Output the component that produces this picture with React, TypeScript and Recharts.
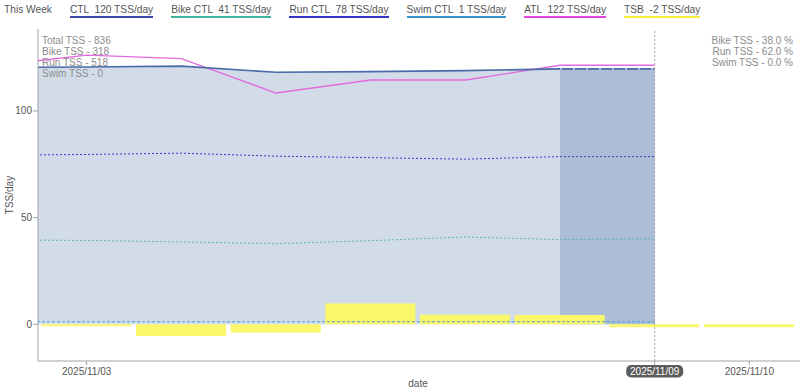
import React from 'react';
import { ComposedChart, Area, Line, Bar, XAxis, YAxis, ReferenceLine } from 'recharts';

const dates = ['2025/11/02', '2025/11/03', '2025/11/04', '2025/11/05', '2025/11/06', '2025/11/07', '2025/11/08', '2025/11/09', '2025/11/10'];
const dayIndex = [-1, 0, 1, 2, 3, 4, 5, 6, 7];
const ctl = [120.3, 120.6, 121.0, 118.1, 118.4, 118.9, 119.7, 119.7, null];
const ctlWeek = [null, null, null, null, null, null, 119.7, 119.7, null];
const bikeCtl = [39.6, 39.3, 38.6, 37.8, 39.2, 40.9, 39.7, 40.1, null];
const runCtl = [79.2, 79.6, 80.2, 78.8, 78.1, 77.4, 78.6, 78.6, null];
const swimCtl = [1.2, 1.2, 1.2, 1.2, 1.2, 1.2, 1.2, 1.2, null];
const atl = [121.0, 126.2, 124.5, 108.4, 114.5, 114.5, 121.4, 121.4, null];
const tsb = [null, -0.9, -5.5, -3.9, 9.8, 4.5, 4.4, -1.4, -1.4];

const xTicks = [0, 6, 7];
const yTicks = [0, 50, 100];
const todayIndex = 6;

const legendTitle = 'This Week';
const legendLabels = ['CTL  120 TSS/day', 'Bike CTL  41 TSS/day', 'Run CTL  78 TSS/day', 'Swim CTL  1 TSS/day', 'ATL  122 TSS/day', 'TSB  -2 TSS/day'];
const legendColors = ['#3a4aa6', '#3cb39a', '#3535c8', '#3a96c8', '#e246dc', '#f4ef3a'];
const leftNotes = ['Total TSS - 836', 'Bike TSS - 318', 'Run TSS - 518', 'Swim TSS - 0'];
const rightNotes = ['Bike TSS - 38.0 %', 'Run TSS - 62.0 %', 'Swim TSS - 0.0 %'];

const data = dates.map((d, i) => ({
  x: dayIndex[i],
  date: d,
  ctl: ctl[i],
  ctlWeek: ctlWeek[i],
  bike: bikeCtl[i],
  run: runCtl[i],
  swim: swimCtl[i],
  atl: atl[i],
  tsb: tsb[i],
}));

const FONT = '"Liberation Sans", Arial, Helvetica, sans-serif';

const XTick = (props: any) => {
  const { x, y, payload } = props;
  const idx = dayIndex.indexOf(payload.value);
  const label = idx >= 0 ? dates[idx] : '';
  if (payload.value === todayIndex) {
    return (
      <g>
        <rect x={x - 28.5} y={y} width={57} height={12.5} rx={5} ry={5} fill="#5c5c5c" />
        <text x={x} y={y + 9.8} textAnchor="middle" fill="#ffffff" fontSize={10} fontFamily={FONT}>{label}</text>
      </g>
    );
  }
  return (
    <text x={x} y={y + 9.8} textAnchor="middle" fill="#555" fontSize={10} fontFamily={FONT}>{label}</text>
  );
};

export default function App() {
  return (
    <div style={{ position: 'absolute', left: 0, top: 0, width: 800, height: 392, fontFamily: FONT, background: '#fff' }}>
      <ComposedChart width={800} height={392} data={data} margin={{ top: 29, right: 0, bottom: 0, left: 8 }}>
        <XAxis
          dataKey="x"
          type="number"
          domain={[-0.514, 7.535]}
          allowDataOverflow
          ticks={xTicks}
          tick={<XTick />}
          tickSize={4}
          tickMargin={0}
          height={31}
          stroke="#a3a3a3"
          interval={0}
        />
        <YAxis
          type="number"
          domain={[-17.2, 138.4]}
          allowDataOverflow
          ticks={yTicks}
          width={30}
          tickSize={5}
          tickMargin={1}
          stroke="#a3a3a3"
          tick={{ fill: '#555', fontSize: 10, fontFamily: FONT }}
        />
        <Area dataKey="ctl" type="linear" baseValue={0} fill="#d2dce9" fillOpacity={1} stroke="none" isAnimationActive={false} />
        <Area dataKey="ctlWeek" type="linear" baseValue={0} fill="#abbdd7" fillOpacity={1} stroke="none" isAnimationActive={false} />
        <Line dataKey="swim" type="linear" stroke="#4a9fd0" strokeWidth={1} strokeDasharray="3 2" dot={false} isAnimationActive={false} />
        <Line dataKey="bike" type="linear" stroke="#52bba2" strokeWidth={1} strokeDasharray="2 2" dot={false} isAnimationActive={false} />
        <Line dataKey="run" type="linear" stroke="#3838c8" strokeWidth={1} strokeDasharray="2 2" dot={false} isAnimationActive={false} />
        <Line dataKey="atl" type="linear" stroke="#e36ade" strokeWidth={1.3} dot={false} isAnimationActive={false} />
        <Line dataKey="ctl" type="linear" stroke="#4a6aa8" strokeWidth={1.6} dot={false} isAnimationActive={false} />
        <Line dataKey="ctlWeek" type="linear" stroke="#ffffff" strokeWidth={1} strokeDasharray="2 11" dot={false} isAnimationActive={false} />
        <Bar dataKey="tsb" fill="#fbf76a" barSize={90} isAnimationActive={false} />
        <ReferenceLine x={todayIndex} stroke="#a8a8a8" strokeWidth={1} strokeDasharray="2 2" />
      </ComposedChart>

      <div style={{ position: 'absolute', left: 4, top: 4, display: 'flex', gap: 18, fontSize: 10.2, color: '#555', whiteSpace: 'pre', lineHeight: '12px' }}>
        <span>{legendTitle}</span>
        {legendLabels.map((l, i) => (
          <span key={l} style={{ borderBottom: `2px solid ${legendColors[i]}`, paddingBottom: 0 }}>{l}</span>
        ))}
      </div>

      <div style={{ position: 'absolute', left: 42, top: 34.5, fontSize: 10, lineHeight: '11px', color: '#8c8c8c' }}>
        {leftNotes.map((t) => (<div key={t}>{t}</div>))}
      </div>
      <div style={{ position: 'absolute', right: 7, top: 34.5, fontSize: 10, lineHeight: '11px', color: '#8c8c8c', textAlign: 'right' }}>
        {rightNotes.map((t) => (<div key={t}>{t}</div>))}
      </div>

      <div style={{ position: 'absolute', left: 9, top: 195, fontSize: 10, color: '#555', transform: 'translate(-50%, -50%) rotate(-90deg)', whiteSpace: 'nowrap' }}>TSS/day</div>
      <div style={{ position: 'absolute', left: 418, top: 383, fontSize: 10, color: '#555', transform: 'translate(-50%, -50%)', whiteSpace: 'nowrap' }}>date</div>
    </div>
  );
}
